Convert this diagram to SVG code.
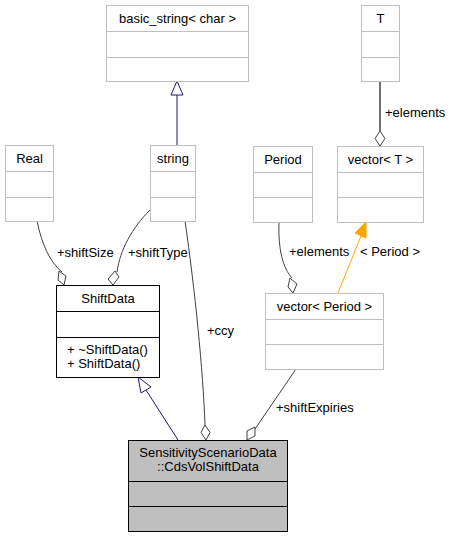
<svg xmlns="http://www.w3.org/2000/svg" width="451" height="537" viewBox="0 0 451 537">
<style>
text{font-family:"Liberation Sans",Arial,sans-serif;font-size:13px;fill:#000}
.c{text-anchor:middle}
.g{fill:#fff;stroke:#bfbfbf;stroke-width:1}
.k{fill:#fff;stroke:#000;stroke-width:1}
.s{fill:#bfbfbf;stroke:#000;stroke-width:1}
.e{fill:none;stroke:#404040;stroke-width:1}
.d{fill:#fff;stroke:#404040;stroke-width:1}
</style>
<rect width="451" height="537" fill="#fff"/>
<g id="connectors">
  <!-- basic_string <- string -->
  <path d="M177,146 L177,95" fill="none" stroke="#191970"/>
  <polygon points="177,81 171,95 183,95" fill="#fff" stroke="#191970"/>
  <!-- T -> vector<T> -->
  <path d="M380,81 L380,131" fill="none" stroke="#404040" stroke-width="1.5"/>
  <polygon class="d" points="380,146 375,138.5 380,131 385,138.5"/>
  <text x="385" y="117">+elements</text>
  <!-- Real -> ShiftData -->
  <path class="e" d="M37,221 C42,245 50,262 62,272"/>
  <polygon class="d" points="64,285 58,280 59,271 66,276"/>
  <text x="57" y="257">+shiftSize</text>
  <!-- string -> ShiftData -->
  <path class="e" d="M150,210 C132,228 120,250 117,272"/>
  <polygon class="d" points="113,285 108,279 115,271 119,277"/>
  <text x="128" y="257">+shiftType</text>
  <!-- string -> CdsVol -->
  <path class="e" d="M185,221 C195,290 203,370 205,425"/>
  <polygon class="d" points="206,440 201,432.5 205,425 210,432.5"/>
  <text x="207" y="335">+ccy</text>
  <!-- Period -> vector<Period> -->
  <path class="e" d="M279,222 C278,250 283,268 292,278"/>
  <polygon class="d" points="293,293 288,287 290,278 297,284"/>
  <text x="289" y="256">+elements</text>
  <!-- vector<T> <- vector<Period> -->
  <path d="M338,293 L361,236" fill="none" stroke="#ffa500"/>
  <polygon points="366,222 355,233 366,238" fill="#ffa500" stroke="#ffa500"/>
  <text x="360" y="256">&lt; Period &gt;</text>
  <!-- vector<Period> -> CdsVol -->
  <path class="e" d="M296,369 L255,429"/>
  <polygon class="d" points="247,440 247,431 255,427 255,436"/>
  <text x="276" y="412">+shiftExpiries</text>
  <!-- CdsVol -> ShiftData inheritance -->
  <path d="M178,440 L146,390" fill="none" stroke="#191970"/>
  <polygon points="138,377 141,393 151,387" fill="#fff" stroke="#191970"/>
</g>
<g id="basic_string">
  <rect class="g" x="106.5" y="5.5" width="142" height="76"/>
  <path d="M106.5,31.5 H248.5 M106.5,57.5 H248.5" stroke="#bfbfbf"/>
  <text class="c" x="177.5" y="23">basic_string&lt; char &gt;</text>
</g>
<g id="T">
  <rect class="g" x="361.5" y="5.5" width="38" height="76"/>
  <path d="M361.5,31.5 H399.5 M361.5,57.5 H399.5" stroke="#bfbfbf"/>
  <text class="c" x="380.5" y="23">T</text>
</g>
<g id="Real">
  <rect class="g" x="5.5" y="145.5" width="48" height="76"/>
  <path d="M5.5,171.5 H53.5 M5.5,197.5 H53.5" stroke="#bfbfbf"/>
  <text class="c" x="29.5" y="163">Real</text>
</g>
<g id="string">
  <rect class="g" x="150.5" y="145.5" width="45" height="76"/>
  <path d="M150.5,171.5 H195.5 M150.5,197.5 H195.5" stroke="#bfbfbf"/>
  <text class="c" x="173" y="163">string</text>
</g>
<g id="Period">
  <rect class="g" x="253.5" y="146.5" width="59" height="76"/>
  <path d="M253.5,172.5 H312.5 M253.5,197.5 H312.5" stroke="#bfbfbf"/>
  <text class="c" x="283" y="164">Period</text>
</g>
<g id="vectorT">
  <rect class="g" x="337.5" y="146.5" width="86" height="76"/>
  <path d="M337.5,172.5 H423.5 M337.5,197.5 H423.5" stroke="#bfbfbf"/>
  <text class="c" x="380.5" y="164">vector&lt; T &gt;</text>
</g>
<g id="ShiftData">
  <rect class="k" x="56.5" y="285.5" width="103" height="92"/>
  <path d="M56.5,311.5 H159.5 M56.5,337.5 H159.5" stroke="#000"/>
  <text class="c" x="108" y="303">ShiftData</text>
  <text x="67" y="354">+ ~ShiftData()</text>
  <text x="67" y="368">+ ShiftData()</text>
</g>
<g id="vectorPeriod">
  <rect class="g" x="265.5" y="293.5" width="118" height="76"/>
  <path d="M265.5,319.5 H383.5 M265.5,344.5 H383.5" stroke="#bfbfbf"/>
  <text class="c" x="324.5" y="311">vector&lt; Period &gt;</text>
</g>
<g id="CdsVolShiftData">
  <rect class="s" x="128.5" y="440.5" width="159" height="91"/>
  <path d="M128.5,481.5 H287.5 M128.5,506.5 H287.5" stroke="#000"/>
  <text class="c" x="208" y="457">SensitivityScenarioData</text>
  <text class="c" x="208" y="471">::CdsVolShiftData</text>
</g>
</svg>
